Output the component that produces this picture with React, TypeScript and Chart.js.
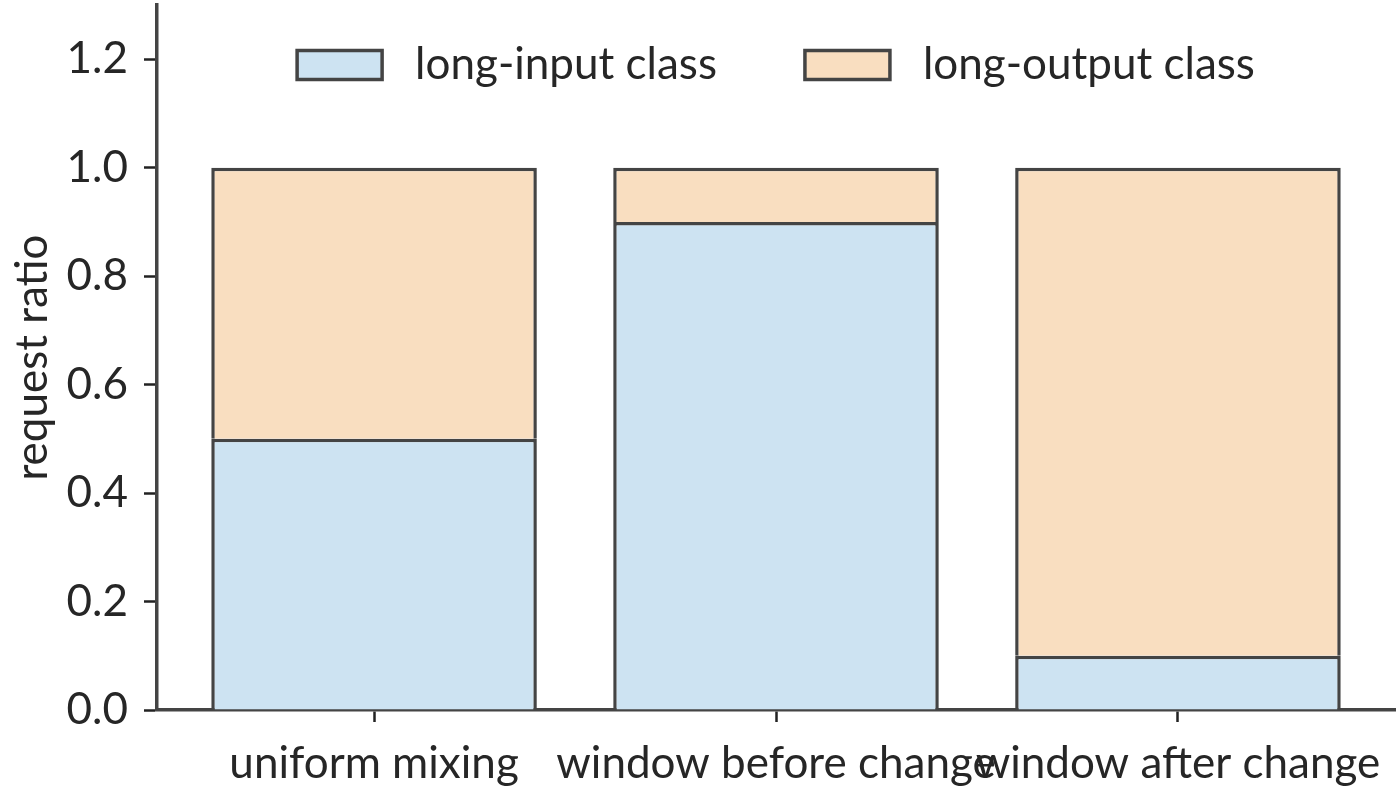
import { useEffect, useRef } from 'react';
import { Chart } from 'chart.js/auto';

const categories = ['uniform mixing', 'window before change', 'window after change'];
const seriesNames = ['long-input class', 'long-output class'];
const longInput = [0.5, 0.9, 0.1];
const longOutput = [0.5, 0.1, 0.9];
const yTicks = [0, 0.2, 0.4, 0.6, 0.8, 1.0, 1.2];

const FONT = 'Lato, "Noto Sans", sans-serif';
const FONT_SIZE = 44;
const EDGE = '#444444';
const TEXT = '#262626';
const BLUE = 'rgb(205, 227, 242)';
const PEACH = 'rgb(249, 222, 192)';
const LINE = 3.5;

// legend inside the plot + rotated y title, drawn by hand
const overlay = {
  id: 'overlay',
  afterDraw(chart: any) {
    const { ctx, chartArea } = chart;
    ctx.save();
    ctx.font = `${FONT_SIZE}px ${FONT}`;
    ctx.fillStyle = TEXT;

    // y axis title
    ctx.save();
    ctx.translate(33, (chartArea.top + chartArea.bottom) / 2);
    ctx.rotate(-Math.PI / 2);
    ctx.textAlign = 'center';
    ctx.textBaseline = 'middle';
    ctx.fillText('request ratio', 0, 0);
    ctx.restore();

    // legend
    const boxW = 85, boxH = 29, gap = 33, itemGap = 88;
    const fills = [BLUE, PEACH];
    const widths = seriesNames.map((n) => boxW + gap + ctx.measureText(n).width);
    const total = widths[0] + widths[1] + itemGap;
    let x = (chartArea.left + chartArea.right) / 2 - total / 2;
    const cy = chartArea.top + 60;
    seriesNames.forEach((name, i) => {
      ctx.fillStyle = fills[i];
      ctx.fillRect(x, cy - boxH / 2, boxW, boxH);
      ctx.lineWidth = LINE;
      ctx.strokeStyle = EDGE;
      ctx.strokeRect(x, cy - boxH / 2, boxW, boxH);
      ctx.fillStyle = TEXT;
      ctx.textAlign = 'left';
      ctx.textBaseline = 'middle';
      ctx.fillText(name, x + boxW + gap, cy);
      x += widths[i] + itemGap;
    });
    ctx.restore();
  },
};

export default function App() {
  const canvasRef = useRef<HTMLCanvasElement>(null);

  useEffect(() => {
    if (!canvasRef.current) return;
    const chart = new Chart(canvasRef.current, {
      type: 'bar',
      data: {
        datasets: [
          {
            label: seriesNames[0],
            data: categories.map((_, i) => ({ x: i, y: longInput[i] })),
            backgroundColor: BLUE,
            borderColor: EDGE,
            borderWidth: LINE,
            inflateAmount: 0,
            barPercentage: 0.81,
            categoryPercentage: 1,
          },
          {
            label: seriesNames[1],
            data: categories.map((_, i) => ({ x: i, y: longOutput[i] })),
            backgroundColor: PEACH,
            borderColor: EDGE,
            borderWidth: LINE,
            inflateAmount: 0,
            barPercentage: 0.81,
            categoryPercentage: 1,
          },
        ],
      },
      options: {
        animation: false,
        responsive: true,
        maintainAspectRatio: false,
        layout: { padding: { top: 5, right: 5, left: 0, bottom: 0 } },
        plugins: {
          legend: { display: false },
          tooltip: { enabled: false },
        },
        scales: {
          x: {
            type: 'linear',
            stacked: true,
            min: -0.54,
            max: 2.54,
            offset: false,
            afterBuildTicks: (scale: any) => {
              scale.ticks = categories.map((_, i) => ({ value: i }));
            },
            afterFit: (scale: any) => {
              scale.height = 80;
              scale.paddingLeft = 0;
              scale.paddingRight = 0;
            },
            ticks: {
              autoSkip: false,
              maxRotation: 0,
              padding: 15,
              color: TEXT,
              font: { family: FONT, size: FONT_SIZE },
              callback: (v: any) => categories[v] ?? '',
            },
            grid: {
              offset: false,
              drawOnChartArea: false,
              drawTicks: true,
              tickLength: 12,
              tickWidth: 2.5,
              tickColor: '#222',
            },
            border: { display: true, color: EDGE, width: LINE },
          },
          y: {
            stacked: true,
            min: 0,
            max: 1.3,
            afterBuildTicks: (scale: any) => {
              scale.ticks = yTicks.map((v) => ({ value: v }));
            },
            afterFit: (scale: any) => {
              scale.width = 157;
              scale.paddingTop = 0;
              scale.paddingBottom = 0;
            },
            ticks: {
              padding: 16,
              color: TEXT,
              font: { family: FONT, size: FONT_SIZE },
              callback: (v: any) => Number(v).toFixed(1),
            },
            grid: {
              drawOnChartArea: false,
              drawTicks: true,
              tickLength: 13,
              tickWidth: 2.5,
              tickColor: '#222',
            },
            border: { display: true, color: EDGE, width: LINE },
          },
        },
      },
      plugins: [overlay],
    } as any);
    return () => chart.destroy();
  }, []);

  return (
    <div style={{ position: 'fixed', left: 0, top: 0, width: 1400, height: 790, background: '#fff' }}>
      <canvas ref={canvasRef}></canvas>
    </div>
  );
}
